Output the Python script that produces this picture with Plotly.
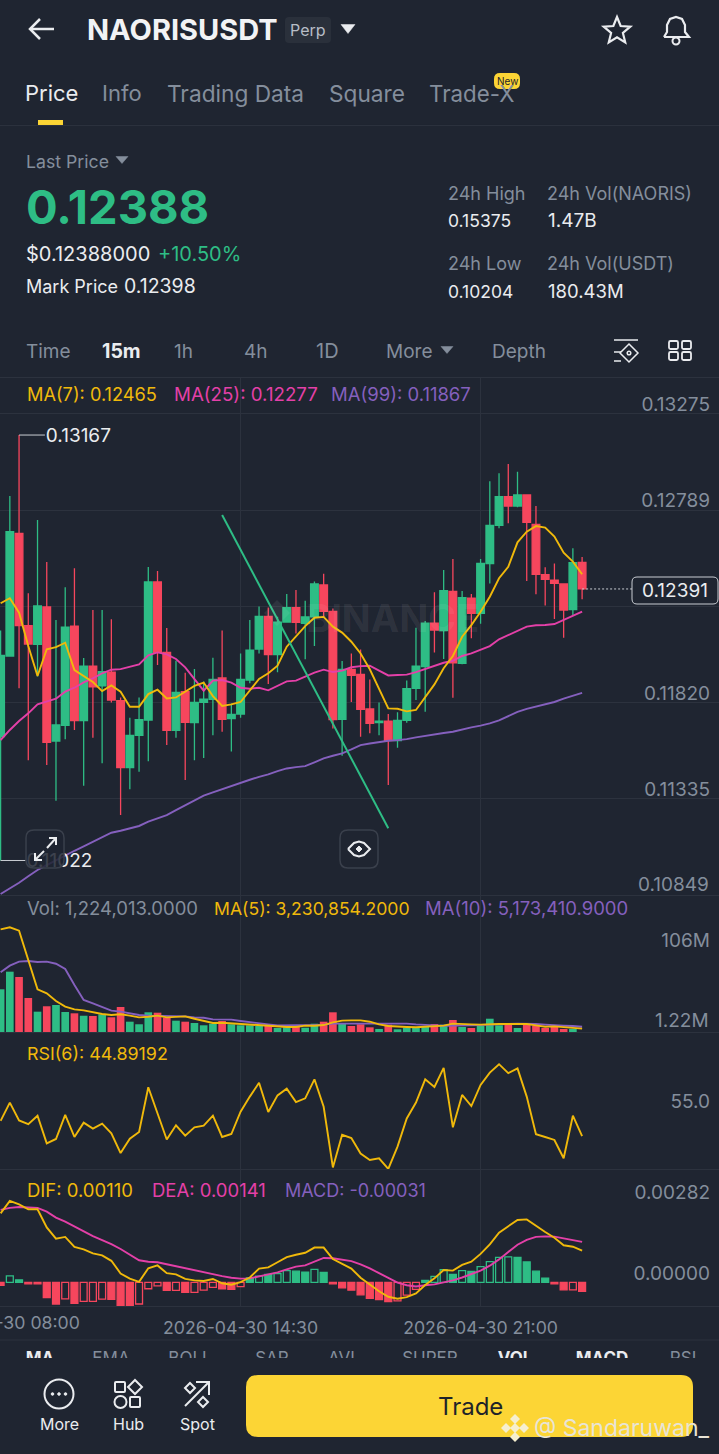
import math
import plotly.graph_objects as go

W, H = 719, 1454
BG = "#1F2531"
GRID = "#2C323E"
GRAY = "#848E9C"
WHITE = "#EAECEF"
GREEN = "#2EBD85"
RED = "#F6465D"
YELLOW = "#FCD535"
ORANGE = "#F0B90B"
PINK = "#E440A8"
PURPLE = "#8560BE"
FONT = "Inter"

# candles, 15m, first one is 04-30 08:00
candle_open = [0.11646, 0.12053, 0.12671, 0.12206, 0.12112, 0.12300, 0.11624, 0.11703, 0.12204, 0.11727, 0.12002, 0.11902, 0.11972, 0.11828, 0.11490, 0.11653,
               0.11730, 0.12426, 0.12071, 0.11678, 0.11873, 0.11717, 0.11819, 0.11834, 0.11942, 0.11737, 0.11760, 0.11932, 0.12088, 0.12253, 0.12060, 0.12224,
               0.12297, 0.12218, 0.12250, 0.12411, 0.12278, 0.11733, 0.11986, 0.11960, 0.11786, 0.11717, 0.11724, 0.11626, 0.11728, 0.11890, 0.11999, 0.12218,
               0.12181, 0.12379, 0.12016, 0.12345, 0.12268, 0.12519, 0.12712, 0.12856, 0.12809, 0.12865, 0.12717, 0.12463, 0.12435, 0.12416, 0.12287, 0.12525]
candle_high = [0.12181, 0.12860, 0.13167, 0.12369, 0.12739, 0.12527, 0.12234, 0.12399, 0.12495, 0.12043, 0.12285, 0.12285, 0.12238, 0.11844, 0.11742, 0.11844,
               0.12502, 0.12482, 0.12194, 0.12029, 0.11969, 0.11987, 0.11924, 0.12044, 0.12181, 0.11814, 0.12066, 0.12234, 0.12302, 0.12298, 0.12251, 0.12366,
               0.12386, 0.12332, 0.12428, 0.12468, 0.12292, 0.12028, 0.12066, 0.12086, 0.11935, 0.11818, 0.11760, 0.11769, 0.11929, 0.12196, 0.12229, 0.12374,
               0.12487, 0.12542, 0.12381, 0.12366, 0.12542, 0.12934, 0.12974, 0.13021, 0.12982, 0.12868, 0.12809, 0.12500, 0.12519, 0.12416, 0.12596, 0.12552]
candle_low = [0.11022, 0.12053, 0.11890, 0.11528, 0.11949, 0.11503, 0.11323, 0.11633, 0.11680, 0.11399, 0.11641, 0.11512, 0.11818, 0.11251, 0.11381, 0.11470,
              0.11522, 0.12008, 0.11604, 0.11641, 0.11428, 0.11528, 0.11539, 0.11654, 0.11671, 0.11571, 0.11742, 0.11915, 0.12066, 0.11912, 0.11971, 0.12224,
              0.12167, 0.12036, 0.12103, 0.12251, 0.11688, 0.11550, 0.11821, 0.11646, 0.11663, 0.11653, 0.11402, 0.11591, 0.11717, 0.11831, 0.11772, 0.12071,
              0.12038, 0.11843, 0.12011, 0.12142, 0.12216, 0.12419, 0.12697, 0.12722, 0.12803, 0.12431, 0.12364, 0.12307, 0.12240, 0.12145, 0.12260, 0.12339]
candle_close = [0.12056, 0.12680, 0.12206, 0.12113, 0.12305, 0.11618, 0.11705, 0.12199, 0.11727, 0.12002, 0.11898, 0.11974, 0.11831, 0.11490, 0.11653, 0.11732,
                0.12426, 0.12071, 0.11678, 0.11870, 0.11718, 0.11819, 0.11836, 0.11935, 0.11733, 0.11759, 0.11935, 0.12083, 0.12253, 0.12060, 0.12224, 0.12297,
                0.12223, 0.12250, 0.12416, 0.12278, 0.11732, 0.11986, 0.11955, 0.11784, 0.11713, 0.11724, 0.11626, 0.11728, 0.11888, 0.12002, 0.12218, 0.12184,
                0.12382, 0.12019, 0.12347, 0.12268, 0.12520, 0.12712, 0.12856, 0.12809, 0.12865, 0.12727, 0.12465, 0.12440, 0.12419, 0.12285, 0.12524, 0.12391]
ma7 = [0.12319, 0.12344, 0.12271, 0.12103, 0.11952, 0.12087, 0.12098, 0.12120, 0.11982, 0.11952, 0.11922, 0.11876, 0.11905, 0.11873, 0.11797, 0.11797,
       0.11861, 0.11883, 0.11839, 0.11844, 0.11873, 0.11902, 0.11919, 0.11851, 0.11801, 0.11809, 0.11821, 0.11878, 0.11937, 0.11966, 0.12004, 0.12100,
       0.12154, 0.12204, 0.12246, 0.12250, 0.12201, 0.12171, 0.12125, 0.12066, 0.11986, 0.11890, 0.11789, 0.11787, 0.11774, 0.11781, 0.11844, 0.11910,
       0.11991, 0.12053, 0.12150, 0.12209, 0.12276, 0.12352, 0.12445, 0.12503, 0.12626, 0.12680, 0.12708, 0.12700, 0.12655, 0.12574, 0.12529, 0.12465]
ma25 = [0.11629, 0.11680, 0.11725, 0.11764, 0.11809, 0.11823, 0.11838, 0.11873, 0.11893, 0.11920, 0.11940, 0.11966, 0.11984, 0.11987, 0.11998, 0.12011,
        0.12056, 0.12071, 0.12061, 0.12038, 0.11996, 0.11935, 0.11878, 0.11929, 0.11932, 0.11919, 0.11893, 0.11888, 0.11893, 0.11880, 0.11902, 0.11925,
        0.11929, 0.11949, 0.11969, 0.11984, 0.11972, 0.11979, 0.11996, 0.12002, 0.12004, 0.11979, 0.11955, 0.11957, 0.11959, 0.11972, 0.11989, 0.12002,
        0.12019, 0.12029, 0.12053, 0.12066, 0.12083, 0.12103, 0.12137, 0.12159, 0.12181, 0.12201, 0.12208, 0.12209, 0.12214, 0.12234, 0.12256, 0.12277]
ma99 = [0.10853, 0.10881, 0.10910, 0.10943, 0.10974, 0.10999, 0.11024, 0.11049, 0.11071, 0.11093, 0.11117, 0.11142, 0.11162, 0.11172, 0.11184, 0.11196,
        0.11218, 0.11234, 0.11251, 0.11276, 0.11300, 0.11327, 0.11349, 0.11365, 0.11382, 0.11397, 0.11412, 0.11429, 0.11444, 0.11456, 0.11473, 0.11486,
        0.11493, 0.11498, 0.11517, 0.11537, 0.11550, 0.11562, 0.11582, 0.11604, 0.11612, 0.11619, 0.11626, 0.11629, 0.11634, 0.11643, 0.11651, 0.11658,
        0.11665, 0.11671, 0.11683, 0.11693, 0.11702, 0.11713, 0.11728, 0.11750, 0.11771, 0.11786, 0.11799, 0.11809, 0.11821, 0.11838, 0.11853, 0.11867]
trend_x = [24, 42]
trend_y = [0.12764, 0.11185]

# volume in millions
volume = [55.8, 78.3, 71.5, 44.7, 27.2, 34.1, 35.7, 26.8, 25.1, 22.0, 21.7, 23.8, 20.0, 33.2, 14.4, 11.1,
          26.4, 25.9, 19.5, 15.7, 14.4, 12.7, 9.8, 11.8, 15.3, 11.1, 9.8, 9.8, 8.9, 9.3, 6.3, 7.2,
          7.6, 6.7, 11.8, 14.4, 26.4, 11.8, 8.9, 11.1, 7.2, 5.1, 10.5, 4.7, 6.7, 7.2, 8.0, 11.4,
          10.5, 16.6, 7.6, 6.3, 8.9, 18.2, 9.8, 10.2, 6.3, 10.2, 9.3, 6.3, 7.6, 5.1, 5.1, 1.224]
vol_ma5 = [132.4, 135.0, 130.7, 93.2, 55.7, 50.6, 40.8, 33.6, 30.2, 28.9, 26.3, 24.2, 22.9, 23.8, 22.1, 19.9,
           20.8, 22.1, 19.9, 20.4, 21.2, 18.2, 15.3, 12.7, 13.1, 12.3, 11.4, 11.0, 10.1, 9.3, 8.0, 7.6,
           7.6, 9.3, 9.3, 10.1, 13.6, 15.7, 16.1, 16.1, 14.4, 11.0, 8.9, 8.0, 7.6, 7.2, 7.6, 8.9,
           9.3, 11.9, 11.9, 11.0, 10.6, 11.4, 11.4, 11.4, 11.4, 11.4, 9.7, 8.0, 8.4, 7.6, 6.7, 5.5]
vol_ma10 = [77.5, 86.0, 91.1, 91.9, 90.7, 91.1, 88.5, 81.7, 61.3, 42.1, 37.8, 33.6, 28.5, 27.2, 25.1, 22.9,
            22.1, 22.1, 21.6, 21.2, 21.2, 19.9, 19.5, 17.4, 17.0, 17.0, 15.3, 13.6, 12.3, 11.0, 9.7, 9.7,
            9.3, 9.7, 10.1, 10.6, 11.9, 11.9, 11.9, 12.3, 12.3, 12.7, 12.7, 12.7, 11.9, 11.0, 10.1, 9.7,
            9.3, 9.3, 9.3, 9.3, 10.1, 10.6, 10.6, 11.4, 11.9, 11.9, 11.4, 10.6, 9.7, 9.3, 8.9, 8.0]

rsi6 = [51.0, 58.4, 51.2, 49.7, 53.1, 41.9, 43.7, 53.4, 44.5, 50.3, 47.9, 49.9, 46.0, 38.0, 43.8, 46.5,
        64.6, 54.0, 43.5, 49.2, 45.0, 48.4, 49.1, 53.1, 44.5, 45.7, 54.7, 60.8, 66.4, 54.6, 61.3, 64.0,
        58.6, 60.1, 67.8, 56.7, 32.2, 45.4, 44.1, 37.8, 35.2, 35.9, 31.6, 40.6, 52.0, 58.4, 67.8, 64.7,
        72.4, 48.4, 61.5, 57.0, 65.5, 70.5, 73.9, 70.3, 72.2, 60.8, 45.6, 44.5, 43.3, 35.9, 53.1, 44.89]

dif = [0.00240, 0.00283, 0.00271, 0.00254, 0.00254, 0.00191, 0.00152, 0.00158, 0.00123, 0.00115, 0.00101, 0.00094, 0.00075, 0.00031, 0.00013, 0.00002,
       0.00049, 0.00059, 0.00032, 0.00028, 0.00012, 0.00007, 0.00005, 0.00012, -0.00003, -0.00008, 0.00001, 0.00017, 0.00048, 0.00052, 0.00070, 0.00088,
       0.00096, 0.00103, 0.00121, 0.00121, 0.00081, 0.00065, 0.00048, 0.00016, -0.00009, -0.00031, -0.00050, -0.00057, -0.00051, -0.00038, -0.00009, 0.00014,
       0.00043, 0.00041, 0.00061, 0.00072, 0.00099, 0.00132, 0.00173, 0.00196, 0.00217, 0.00219, 0.00196, 0.00175, 0.00155, 0.00129, 0.00124, 0.00110]
dea = [0.00252, 0.00259, 0.00262, 0.00260, 0.00259, 0.00246, 0.00225, 0.00211, 0.00194, 0.00177, 0.00161, 0.00147, 0.00133, 0.00116, 0.00095, 0.00077,
       0.00072, 0.00070, 0.00063, 0.00056, 0.00048, 0.00041, 0.00034, 0.00029, 0.00022, 0.00016, 0.00013, 0.00014, 0.00021, 0.00027, 0.00035, 0.00045,
       0.00055, 0.00059, 0.00073, 0.00085, 0.00084, 0.00080, 0.00074, 0.00063, 0.00049, 0.00032, 0.00016, -0.00001, -0.00010, -0.00014, -0.00010, -0.00007,
       0.00000, 0.00007, 0.00017, 0.00029, 0.00041, 0.00058, 0.00080, 0.00106, 0.00131, 0.00148, 0.00158, 0.00160, 0.00159, 0.00153, 0.00148, 0.00141]
macd = [-0.00010, 0.00023, 0.00009, -0.00005, -0.00005, -0.00053, -0.00075, -0.00057, -0.00073, -0.00066, -0.00066, -0.00058, -0.00059, -0.00082, -0.00082, -0.00075,
        -0.00022, -0.00012, -0.00028, -0.00028, -0.00035, -0.00035, -0.00027, -0.00017, -0.00022, -0.00024, -0.00015, 0.00016, 0.00022, 0.00028, 0.00031, 0.00041,
        0.00039, 0.00036, 0.00045, 0.00035, -0.00005, -0.00019, -0.00027, -0.00043, -0.00055, -0.00060, -0.00067, -0.00064, -0.00044, -0.00024, 0.00007, 0.00021,
        0.00044, 0.00028, 0.00041, 0.00038, 0.00055, 0.00072, 0.00087, 0.00089, 0.00087, 0.00071, 0.00039, 0.00015, -0.00005, -0.00026, -0.00026, -0.00031]
macd_hollow = [1, 7, 9, 10, 11, 15, 16, 17, 19, 21, 22, 23, 26, 28, 30, 31, 34, 43, 44, 45, 47, 48, 50, 52, 53, 54, 55, 62]

# the lowest labels (0.10849, 1.22M) sit on the pane edge and plotly hides them once shifted, they are annotations below
price_ticks = [0.13275, 0.12789, 0.12304, 0.11820, 0.11335]
price_tick_text = ["0.13275", "0.12789", "0.12304", "0.11820", "0.11335"]
vol_ticks = [106]
vol_tick_text = ["106M"]
rsi_ticks = [55]
rsi_tick_text = ["55.0"]
macd_ticks = [0.00282, 0]
macd_tick_text = ["0.00282", "0.00000"]
# the 08:00 label hangs off the left edge, plotly drops it as a tick so it is an annotation below
time_ticks = [26, 52]
time_tick_text = ["2026-04-30 14:30", "2026-04-30 21:00"]

idx = list(range(len(candle_close)))
vol_colors = [GREEN if c >= o else RED for o, c in zip(candle_open, candle_close)]
macd_line = [GREEN if v >= 0 else RED for v in macd]
macd_fill = [BG if i in macd_hollow else macd_line[i] for i in idx]


def px(x):
    return x / W


def py(y):
    return 1 - y / H


def dom(top, bottom):
    return [py(bottom), py(top)]


annotations = []
shapes = []


def text(x, y, s, size=18.5, color=WHITE, anchor="left", bold=False):
    if anchor == "left":
        x -= 1
    annotations.append(dict(x=px(x), y=py(y), xref="paper", yref="paper", text=f"<b>{s}</b>" if bold else s,
                            showarrow=False, xanchor=anchor, yanchor="middle", borderpad=0,
                            font=dict(family=FONT, size=size, color=color)))


def poly(points, color=WHITE, width=2, fill=None, closed=False):
    d = "M" + " L".join(f"{px(a):.5f},{py(b):.5f}" for a, b in points) + (" Z" if closed else "")
    shapes.append(dict(type="path", path=d, xref="paper", yref="paper", layer="above",
                       line=dict(color=color, width=width), fillcolor=fill or "rgba(0,0,0,0)"))


def rrect(x0, y0, x1, y1, r, color=None, width=0, fill=None):
    c = [(x0 + r, y0), (x1 - r, y0), (x1, y0), (x1, y0 + r), (x1, y1 - r), (x1, y1), (x1 - r, y1), (x0 + r, y1), (x0, y1), (x0, y1 - r), (x0, y0 + r), (x0, y0), (x0 + r, y0)]
    p = [f"{px(a):.5f},{py(b):.5f}" for a, b in c]
    d = f"M{p[0]} L{p[1]} Q{p[2]} {p[3]} L{p[4]} Q{p[5]} {p[6]} L{p[7]} Q{p[8]} {p[9]} L{p[10]} Q{p[11]} {p[12]} Z"
    shapes.append(dict(type="path", path=d, xref="paper", yref="paper", layer="above",
                       line=dict(color=color or "rgba(0,0,0,0)", width=width), fillcolor=fill or "rgba(0,0,0,0)"))


def circle(x, y, r, color=WHITE, width=2, fill=None):
    shapes.append(dict(type="circle", xref="paper", yref="paper", layer="above", x0=px(x - r), x1=px(x + r), y0=py(y + r), y1=py(y - r),
                       line=dict(color=color, width=width), fillcolor=fill or "rgba(0,0,0,0)"))


def diamond(x, y, r, color=WHITE, width=2, fill=None):
    poly([(x, y - r), (x + r, y), (x, y + r), (x - r, y)], color, width, fill, True)


def caret(x, y, color=WHITE, w=7, h=7):
    poly([(x - w, y - h / 2), (x + w, y - h / 2), (x, y + h / 2)], color, 0.5, color, True)


def hline(y, color=GRID, x0=0, x1=W, width=1):
    poly([(x0, y), (x1, y)], color, width)


# header
poly([(54, 29), (30, 29)], WHITE, 2.5)
poly([(40, 19), (30, 29), (40, 39)], WHITE, 2.5)
text(87, 30, "NAORISUSDT", 29, "#F2F3F5", bold=True)
rrect(285, 17, 331, 43, 4, fill="#2A303B")
text(308, 30, "Perp", 16, "#B7BDC6", "center")
caret(348, 29, WHITE, 7, 9)
star = [(617 + (14 if k % 2 == 0 else 6.2) * math.sin(k * math.pi / 5), 31 - (14 if k % 2 == 0 else 6.2) * math.cos(k * math.pi / 5)) for k in range(10)]
poly(star, WHITE, 2.2, closed=True)
poly([(664, 37), (667, 32), (667, 25), (670, 19), (676, 17), (682, 19), (685, 25), (685, 32), (689, 37), (664, 37)], WHITE, 2.2)
circle(676, 41, 3.5, WHITE, 2)

# tabs
text(25, 93, "Price", 22, WHITE)
text(102, 93, "Info", 22, GRAY)
text(167, 93, "Trading Data", 22.7, GRAY)
text(329, 93, "Square", 22.7, GRAY)
text(429, 93, "Trade-X", 22.3, GRAY)
rrect(494, 73, 520, 89, 6, fill=YELLOW)
text(507, 81, "New", 10, "#1E2329", "center")
rrect(38, 120, 63, 125, 0, fill=YELLOW)
hline(125.5)

# ticker block
text(26, 162, "Last Price", 17.7, GRAY)
caret(122, 160, GRAY, 6, 7)
text(26, 206, "0.12388", 47, GREEN, bold=True)
text(26, 254, "$0.12388000", 20, WHITE)
text(158, 254, "+10.50%", 20, GREEN)
text(26, 286, "Mark Price", 18, WHITE)
text(124, 286, "0.12398", 19.5, WHITE)
text(448, 193, "24h High", 18, GRAY)
text(547, 193, "24h Vol(NAORIS)", 18, GRAY)
text(448, 221, "0.15375", 17.5, WHITE)
text(548, 221, "1.47B", 19, WHITE)
text(448, 263, "24h Low", 18, GRAY)
text(547, 263, "24h Vol(USDT)", 18, GRAY)
text(448, 291, "0.10204", 17.5, WHITE)
text(548, 291, "180.43M", 18.5, WHITE)

# timeframe row
text(26, 351, "Time", 19, GRAY)
text(102, 351, "15m", 19.5, WHITE, bold=True)
text(174, 351, "1h", 19, GRAY)
text(244, 351, "4h", 19, GRAY)
text(316, 351, "1D", 20, GRAY)
text(386, 351, "More", 19, GRAY)
caret(447, 350, GRAY, 6, 7)
text(492, 351, "Depth", 19, GRAY)
hline(340, WHITE, 614, 638, 1.5)
hline(352, WHITE, 614, 621, 1.5)
hline(361, WHITE, 614, 621, 1.5)
diamond(629, 353, 9, WHITE, 1.5)
circle(629, 353, 1.8, WHITE, 1.5)
for bx, by in [(669, 341), (682, 341), (669, 352), (682, 352)]:
    rrect(bx, by, bx + 9, by + 8, 1.5, WHITE, 1.8)
hline(377.5)

# pane headers
text(27, 394, "MA(7): 0.12465", 18.2, ORANGE)
text(174, 394, "MA(25): 0.12277", 18.7, PINK)
text(331, 394, "MA(99): 0.11867", 18.5, PURPLE)
text(27, 908, "Vol: 1,224,013.0000", 18.5, GRAY)
text(214, 908, "MA(5): 3,230,854.2000", 17.6, ORANGE)
text(425, 908, "MA(10): 5,173,410.9000", 18.5, PURPLE)
text(27, 1053, "RSI(6): 44.89192", 17.9, ORANGE)
text(27, 1190, "DIF: 0.00110", 18.5, ORANGE)
text(152, 1190, "DEA: 0.00141", 18.5, PINK)
text(285, 1190, "MACD: -0.00031", 18, PURPLE)
text(0.6, 1322, "2026-04-30 08:00", 17.7, GRAY, "center")
text(710, 884, "0.10849", 19, GRAY, "right")
text(710, 1020, "1.22M", 19, GRAY, "right")

# watermark
text(392, 618, "BINANCE", 38, "rgba(255,255,255,0.08)", "center", True)
diamond(277, 613, 13, "rgba(0,0,0,0)", 0, "rgba(255,255,255,0.07)")

# last price box, buttons on the chart
rrect(632, 577, 718, 604, 5, "#C9CDD3", 1, BG)
text(675, 590, "0.12391", 19, WHITE, "center")
rrect(26, 830, 64, 868, 8, "#3A404C", 1.5, "rgba(31,37,49,0.85)")
poly([(47, 848), (56, 838)], WHITE, 2)
poly([(49, 838), (56, 838), (56, 845)], WHITE, 2)
poly([(35, 860), (44, 851)], WHITE, 2)
poly([(35, 853), (35, 860), (42, 860)], WHITE, 2)
rrect(340, 830, 378, 868, 8, "#3A404C", 1.5)
poly([(348, 849), (354, 843), (359, 841.5), (364, 843), (370, 849), (364, 855), (359, 856.5), (354, 855), (348, 849)], WHITE, 2)
diamond(359, 849, 3, WHITE, 1, WHITE)

# bottom bar
hline(1340)
circle(59, 1394, 14.5, WHITE, 2)
for dx in (52.5, 59, 65.5):
    circle(dx, 1394, 1.3, WHITE, 1, WHITE)
text(59, 1424, "More", 16, WHITE, "center")
rrect(115, 1382, 125, 1392, 1, WHITE, 2)
diamond(135, 1387, 7, WHITE, 2)
circle(120.5, 1402, 6, WHITE, 2)
rrect(130, 1397, 140, 1407, 1, WHITE, 2)
text(128, 1424, "Hub", 16, WHITE, "center")
poly([(185, 1406), (209, 1382)], WHITE, 2)
poly([(196, 1382), (209, 1382), (209, 1395)], WHITE, 2)
diamond(190, 1388, 5, WHITE, 2)
diamond(203, 1402, 5, WHITE, 2)
text(197, 1424, "Spot", 16, WHITE, "center")
rrect(246, 1375, 693, 1437, 12, fill=YELLOW)
text(470, 1406, "Trade", 24, "#1E2329", "center")
diamond(515, 1428, 5, "rgba(0,0,0,0)", 0, "#F6EFCF")
for lx, ly in [(515, 1419), (515, 1437), (506, 1428), (524, 1428)]:
    diamond(lx, ly, 5, "rgba(0,0,0,0)", 0, "#F6EFCF")
text(534, 1428, "@ Sandaruwan_", 23, "#E8E4D6")

fig = go.Figure()

fig.add_trace(go.Candlestick(x=idx, open=candle_open, high=candle_high, low=candle_low, close=candle_close,
                             increasing=dict(line=dict(color=GREEN, width=1.3), fillcolor=GREEN),
                             decreasing=dict(line=dict(color=RED, width=1.3), fillcolor=RED),
                             whiskerwidth=0, xaxis="x", yaxis="y"))
fig.add_trace(go.Scatter(x=idx, y=ma99, mode="lines", line=dict(color=PURPLE, width=1.9), xaxis="x", yaxis="y"))
fig.add_trace(go.Scatter(x=idx, y=ma25, mode="lines", line=dict(color=PINK, width=1.9), xaxis="x", yaxis="y"))
fig.add_trace(go.Scatter(x=idx, y=ma7, mode="lines", line=dict(color=ORANGE, width=1.9), xaxis="x", yaxis="y"))
fig.add_trace(go.Scatter(x=trend_x, y=trend_y, mode="lines", line=dict(color=GREEN, width=2), xaxis="x", yaxis="y"))

# high / low markers and the last price line
hi = candle_high.index(max(candle_high))
lo = candle_low.index(min(candle_low))
fig.add_trace(go.Scatter(x=[hi, hi + 2.8], y=[max(candle_high)] * 2, mode="lines", line=dict(color="#C9CDD3", width=1), xaxis="x", yaxis="y"))
fig.add_trace(go.Scatter(x=[hi + 2.9], y=[max(candle_high) - 0.00010], mode="text", text=["0.13167"], textposition="middle right",
                         textfont=dict(family=FONT, size=19, color=WHITE), xaxis="x", yaxis="y"))
fig.add_trace(go.Scatter(x=[lo, lo + 2.7], y=[min(candle_low)] * 2, mode="lines", line=dict(color="#C9CDD3", width=1), xaxis="x", yaxis="y"))
fig.add_trace(go.Scatter(x=[lo + 2.8], y=[min(candle_low) - 0.00010], mode="text", text=["0.11022"], textposition="middle right",
                         textfont=dict(family=FONT, size=19, color=WHITE), xaxis="x", yaxis="y"))
fig.add_trace(go.Scatter(x=[idx[-1], 68.4], y=[candle_close[-1]] * 2, mode="lines", line=dict(color="#C9CDD3", width=1, dash="2px,2px"), xaxis="x", yaxis="y"))

fig.add_trace(go.Bar(x=idx, y=volume, marker=dict(color=vol_colors, line=dict(width=0)), width=0.83, xaxis="x2", yaxis="y2"))
fig.add_trace(go.Scatter(x=idx, y=vol_ma10, mode="lines", line=dict(color=PURPLE, width=1.9), xaxis="x2", yaxis="y2"))
fig.add_trace(go.Scatter(x=idx, y=vol_ma5, mode="lines", line=dict(color=ORANGE, width=1.9), xaxis="x2", yaxis="y2"))

fig.add_trace(go.Scatter(x=idx, y=rsi6, mode="lines", line=dict(color=ORANGE, width=1.9), xaxis="x3", yaxis="y3"))

fig.add_trace(go.Bar(x=idx, y=macd, marker=dict(color=macd_fill, line=dict(color=macd_line, width=1.3)), width=0.75, xaxis="x4", yaxis="y4"))
fig.add_trace(go.Scatter(x=idx, y=dea, mode="lines", line=dict(color=PINK, width=1.9), xaxis="x4", yaxis="y4"))
fig.add_trace(go.Scatter(x=idx, y=dif, mode="lines", line=dict(color=ORANGE, width=1.9), xaxis="x4", yaxis="y4"))

# indicator tabs, cut off by the bottom bar
tab_labels = ["<b>MA</b>", "EMA", "BOLL", "SAR", "AVL", "SUPER", "<b>VOL</b>", "<b>MACD</b>", "RSI"]
tab_pos = [40, 111, 190, 272, 344, 430, 515, 602, 683]
tab_colors = [WHITE, GRAY, GRAY, GRAY, GRAY, GRAY, WHITE, WHITE, GRAY]
fig.add_trace(go.Scatter(x=tab_pos, y=[0.4] * 9, mode="text", text=tab_labels, textposition="bottom center", cliponaxis=True,
                         textfont=dict(family=FONT, size=17, color=tab_colors), xaxis="x5", yaxis="y5"))

x_range = [-0.065, 77.83]


def x_axis(anchor, labels=False, match=True):
    a = dict(domain=[0, 1], anchor=anchor, range=x_range, tickmode="array", tickvals=time_ticks, ticktext=time_tick_text,
             showticklabels=labels, showgrid=True, gridcolor=GRID, gridwidth=1, zeroline=False, showline=True, linecolor=GRID, linewidth=1,
             ticks="", rangeslider=dict(visible=False), fixedrange=True,
             tickfont=dict(family=FONT, size=17.7, color=GRAY))
    if match:
        a["matches"] = "x"
    return a


def y_axis(anchor, top, bottom, rng, ticks, labels, grid=False):
    return dict(domain=dom(top, bottom), anchor=anchor, side="right", range=rng, tickmode="array", tickvals=ticks, ticktext=labels,
                ticklabelposition="inside top", ticklabelstandoff=6, ticklabelshift=4, showgrid=grid, gridcolor=GRID, gridwidth=1, zeroline=False,
                showline=False, ticks="", fixedrange=True, tickfont=dict(family=FONT, size=19, color=GRAY))


fig.update_layout(
    width=W, height=H, margin=dict(l=0, r=0, t=0, b=0), autosize=False,
    paper_bgcolor=BG, plot_bgcolor=BG, showlegend=False, hovermode=False,
    boxgap=0.0, boxgroupgap=0.17,
    xaxis=x_axis("y", match=False), xaxis2=x_axis("y2"), xaxis3=x_axis("y3"),
    xaxis4=dict(x_axis("y4", labels=True), ticklabelstandoff=6),
    xaxis5=dict(domain=[0, 1], anchor="y5", range=[0, W], visible=False, fixedrange=True),
    yaxis=y_axis("x", 378, 895, [0.10848, 0.134546], price_ticks, price_tick_text, grid=True),
    yaxis2=y_axis("x2", 895, 1032, [1.22, 176.3], vol_ticks, vol_tick_text),
    yaxis3=y_axis("x3", 1032, 1169, [31.57, 86.9], rsi_ticks, rsi_tick_text),
    yaxis4=y_axis("x4", 1169, 1306, [-0.00082, 0.00394], macd_ticks, macd_tick_text),
    yaxis5=dict(domain=dom(1342, 1358), anchor="x5", range=[0, 1], visible=False, fixedrange=True),
    annotations=annotations, shapes=shapes,
)

fig.write_html("out.html", config=dict(displayModeBar=False), post_script="document.body.style.margin='0';")
